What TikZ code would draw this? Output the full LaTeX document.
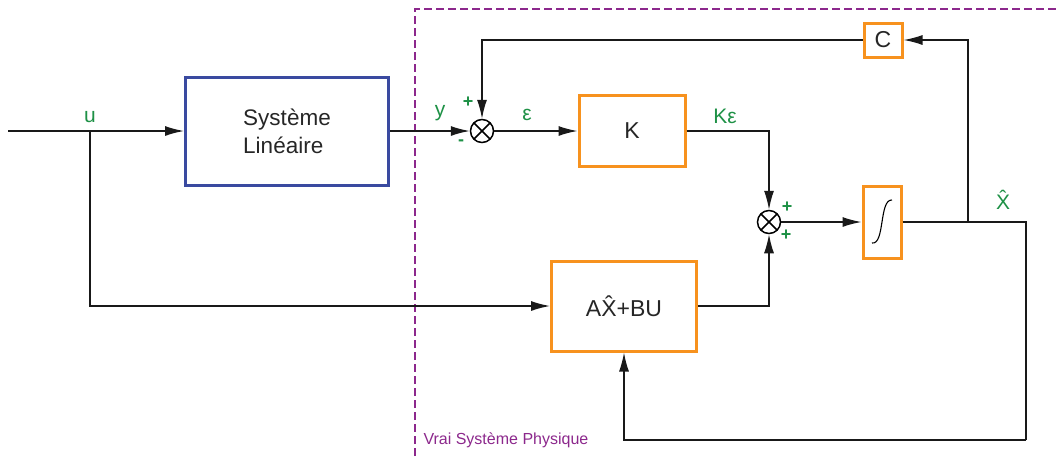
\documentclass[tikz,border=0pt]{standalone}
\usepackage{fontspec}
\setmainfont{Liberation Sans}
\usetikzlibrary{arrows.meta, calc}
\definecolor{BlockOrange}{RGB}{247, 146, 30}
\definecolor{BlockBlue}{RGB}{58, 74, 160}
\definecolor{SigGreen}{RGB}{30, 145, 70}
\definecolor{FramePurple}{RGB}{140, 40, 140}

\begin{document}
\begin{tikzpicture}[x=1pt, y=-1pt,
  wire/.style={line width=1.4pt, black!90},
  arr/.style={wire, -{Latex[length=19pt, width=10pt]}},
  blk/.style={draw=BlockOrange, line width=3pt, fill=white, inner sep=0pt, text=black!85},
  sumnode/.style={draw, circle, line width=1.5pt, minimum size=23pt, inner sep=0pt, fill=white,
    path picture={\draw[line width=1.5pt] (path picture bounding box.north west) -- (path picture bounding box.south east)
      (path picture bounding box.north east) -- (path picture bounding box.south west);}},
  sig/.style={text=SigGreen, font=\fontsize{21}{24}\selectfont},
  sgn/.style={text=SigGreen, font=\fontsize{18}{20}\selectfont\bfseries}]
\useasboundingbox (0,0) rectangle (1059,456);

% physical system frame
\draw[FramePurple, line width=1.8pt, dash pattern=on 8pt off 4pt] (415,456) -- (415,9) -- (1059,9);
\node[anchor=west, text=FramePurple, font=\fontsize{16}{19}\selectfont] (vsp) at (420,440) {Vrai Système Physique};

% blocks
\node[draw=BlockBlue, line width=3pt, minimum width=203pt, minimum height=108pt, align=left,
  font=\fontsize{22.5}{28}\selectfont, text=black!85] (sys) at (287,131) {Système\\Linéaire};
\node[blk, minimum width=106pt, minimum height=71pt, font=\fontsize{23}{27}\selectfont] (gain) at (632,131) {K};
\node[blk, minimum width=38pt, minimum height=72pt] (integ) at (882,222) {};
\node[blk, minimum width=38pt, minimum height=34pt, font=\fontsize{23}{27}\selectfont] (obs) at (883,40) {C};
\node[blk, minimum width=145pt, minimum height=90pt, font=\fontsize{23}{27}\selectfont] (abu) at (624,306) {A\^{X}+BU};
\draw[line width=1.1pt] ([shift={(-10,21)}]integ.center) .. controls ([shift={(3,23)}]integ.center) and ([shift={(-3,-23)}]integ.center) .. ([shift={(10,-22)}]integ.center);

% summing junctions
\node[sumnode] (sum1) at (482,131) {};
\node[sumnode] (sum2) at (769,222) {};

% signal points
\coordinate (uin) at (8,131);
\coordinate (ubr) at (90,131);
\coordinate (xbr) at (968,222);
\coordinate (xr) at (1026,222);
\coordinate (xb) at (1026,440);

% connectors
\draw[arr] (uin) -- (sys.west);
\draw[arr] (ubr) |- (abu.west);
\draw[arr] (sys.east) -- (sum1.west);
\draw[arr] (sum1.east) -- (gain.west);
\draw[arr] (gain.east) -| (sum2.north);
\draw[arr] (abu.east) -| (sum2.south);
\draw[arr] (sum2.east) -- (integ.west);
\draw[wire] (integ.east) -- (xr) -- (xb);
\draw[arr] (xb) -| (abu.south);
\draw[arr] (xbr) |- (obs.east);
\draw[arr] (obs.west) -| (sum1.north);

% labels
\node[sig] (lu) at (90,117) {u};
\node[sig] (ly) at (440,113) {y};
\node[sig] (leps) at (527,115) {ε};
\node[sig] (lkeps) at (725,116) {Kε};
\node[sig] (lx) at (1003,200) {\^{X}};
\node[sgn] (p1) at (468,102) {+};
\node[sgn] (m1) at (461,143) {-};
\node[sgn] (p2) at (787,207) {+};
\node[sgn] (p3) at (786,235) {+};
\end{tikzpicture}
\end{document}
